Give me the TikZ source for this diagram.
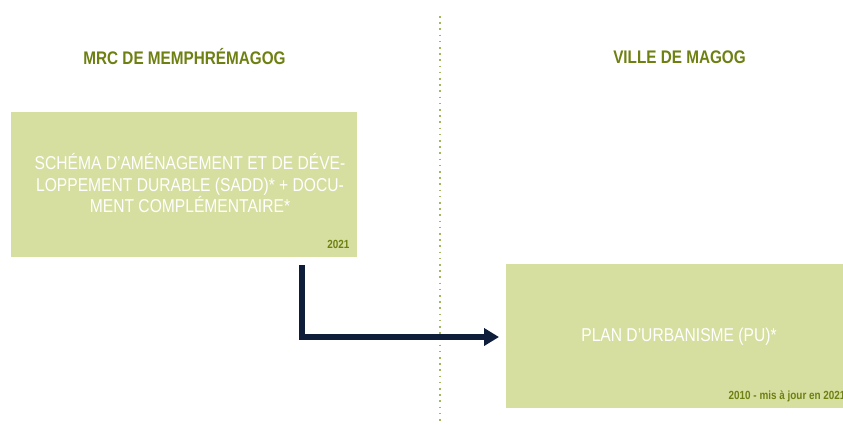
\documentclass[tikz,border=0pt]{standalone}
\usepackage{fontspec}
\setmainfont{Liberation Sans}[FakeStretch=0.84]
\usetikzlibrary{arrows.meta}
\definecolor{boxgreen}{RGB}{214,223,160}
\definecolor{olive}{RGB}{110,128,18}
\definecolor{dotgreen}{RGB}{160,185,90}
\definecolor{navy}{RGB}{14,30,58}
\tikzset{
  header/.style={font=\bfseries\fontsize{18.2}{21}\selectfont, text=olive, inner sep=0pt},
  greenbox/.style={fill=boxgreen, draw=none, inner sep=0pt},
  boxtext/.style={text=white, align=center, font=\fontsize{18.6}{21.5}\selectfont, inner sep=0pt},
  yeartext/.style={text=olive, font=\bfseries\fontsize{11.8}{13}\selectfont, inner sep=0pt},
  flow/.style={draw=navy, line width=5.2pt, line cap=butt, -{Triangle[length=15pt,width=17pt]}}
}
\begin{document}
\begin{tikzpicture}[x=1pt,y=-1pt]
\useasboundingbox (0,0) rectangle (843,424);
\fill[white] (0,0) rectangle (843,424);
\draw[dotgreen, line width=1.6pt, dash pattern=on 1.6pt off 4.6pt] (440,16) -- (440,422);
\node[header] (mrc) at (184.5,57) {MRC DE MEMPHRÉMAGOG};
\node[header] (ville) at (679.5,57) {VILLE DE MAGOG};
\node[greenbox, minimum width=346pt, minimum height=145pt] (sadd) at (184,184.5) {};
\node[boxtext] (saddtxt) at (190,183.5) {SCHÉMA D’AMÉNAGEMENT ET DE DÉVE-\\LOPPEMENT DURABLE (SADD)* + DOCU-\\MENT COMPLÉMENTAIRE*};
\node[yeartext, anchor=east] (y1) at (349.5,244) {2021};
\node[greenbox, minimum width=340pt, minimum height=144pt] (pu) at (676,336) {};
\node[boxtext] (putxt) at (679,337) {PLAN D’URBANISME (PU)*};
\node[yeartext, anchor=west] (y2) at (728.5,396.5) {2010 - mis à jour en 2021};
\coordinate (start) at (302,265);
\coordinate (bend) at (302,337);
\coordinate (tip) at (499,337);
\draw[flow] (start) -- (bend) -- (tip);
\end{tikzpicture}
\end{document}
